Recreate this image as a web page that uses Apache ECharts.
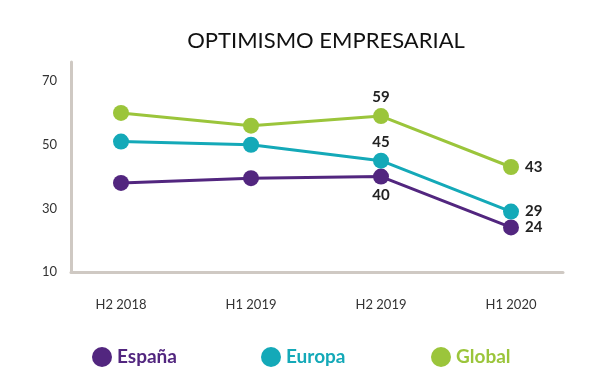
<!DOCTYPE html>
<html>
<head>
<meta charset="utf-8">
<script src="https://cdn.jsdelivr.net/npm/echarts@6/dist/echarts.min.js"></script>
<style>html,body{margin:0;padding:0;background:#fff;}#c{width:603px;height:392px;}</style>
</head>
<body>
<div id="c"></div>
<script>
const categories = ['H2 2018', 'H1 2019', 'H2 2019', 'H1 2020'];
const espana = [38, 39.5, 40, 24];
const europa = [51, 50, 45, 29];
const global = [60, 56, 59, 43];
const yTicks = [10, 30, 50, 70];

const seriesDefs = [
  { name: 'España', data: espana, color: '#52267f', labelPos: { 2: 'bottom', 3: 'right' } },
  { name: 'Europa', data: europa, color: '#14a9b8', labelPos: { 2: 'top', 3: 'right' } },
  { name: 'Global', data: global, color: '#9bc53b', labelPos: { 2: 'top', 3: 'right' } }
];

const chart = echarts.init(document.getElementById('c'), null, { renderer: 'canvas' });
const font = 'Lato, "Noto Sans", sans-serif';
const legendLefts = [87, 256, 426];
const axisColor = '#cfc9c3';

chart.setOption({
  animation: false,
  title: {
    text: 'OPTIMISMO EMPRESARIAL',
    left: 321, top: 25, textAlign: 'center',
    textStyle: { fontFamily: font, fontSize: 22, fontWeight: 'normal', color: '#111' }
  },
  legend: seriesDefs.map((s, i) => ({
    data: [s.name],
    left: legendLefts[i], top: 342,
    icon: 'circle', itemWidth: 20, itemHeight: 20, itemGap: 8,
    textStyle: { fontFamily: font, fontSize: 19, fontWeight: 'bold', color: s.color }
  })),
  grid: [
    { left: 56, top: 62, width: 520, height: 210 },
    { left: 71, top: 62, width: 492, height: 210 }
  ],
  xAxis: [
    {
      gridIndex: 0, type: 'category', data: categories, boundaryGap: true,
      axisLine: { show: false }, axisTick: { show: false }, splitLine: { show: false },
      axisLabel: { fontFamily: font, fontSize: 13, color: '#333', margin: 26 }
    },
    {
      gridIndex: 1, type: 'value', min: 0, max: 1,
      axisLine: { show: true, onZero: false, lineStyle: { color: axisColor, width: 3 } },
      axisTick: { show: false }, splitLine: { show: false }, axisLabel: { show: false }
    }
  ],
  yAxis: [
    {
      gridIndex: 0, type: 'value', min: 10, max: 76,
      axisLine: { show: false }, axisTick: { show: false }, splitLine: { show: false },
      axisLabel: { show: false }
    },
    {
      gridIndex: 1, type: 'value', min: 10, max: 76, interval: 20,
      axisLine: { show: true, onZero: false, lineStyle: { color: axisColor, width: 3 } },
      axisTick: { show: false }, splitLine: { show: false },
      axisLabel: {
        formatter: v => yTicks.includes(v) ? String(v) : '',
        fontFamily: font, fontSize: 13, color: '#333', margin: 14
      }
    }
  ],
  series: seriesDefs.map(s => ({
    name: s.name, type: 'line', color: s.color,
    xAxisIndex: 0, yAxisIndex: 0,
    symbol: 'circle', symbolSize: 16,
    lineStyle: { width: 3, color: s.color },
    itemStyle: { color: s.color },
    data: s.data.map((v, i) => {
      const pos = s.labelPos[i];
      return {
        value: v,
        label: pos ? {
          show: true, position: pos, distance: pos === 'right' ? 6 : 3,
          formatter: String(Math.round(v)),
          fontFamily: font, fontSize: 15, fontWeight: 'bold', color: '#222'
        } : { show: false }
      };
    })
  }))
});
</script>
</body>
</html>
